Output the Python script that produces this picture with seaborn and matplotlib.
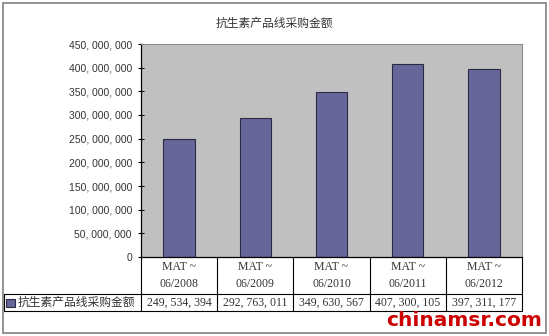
import matplotlib
matplotlib.use("Agg")
import matplotlib.pyplot as plt
import seaborn as sns
import pandas as pd
from matplotlib.patches import Rectangle
from matplotlib.lines import Line2D
from matplotlib.ticker import FuncFormatter, MultipleLocator

sns.set_theme(style="white")
plt.rcParams['font.family'] = ['Noto Sans CJK SC', 'DejaVu Sans']

title = "抗生素产品线采购金额"
series_name = "抗生素产品线采购金额"
categories = ["MAT ~\n06/2008", "MAT ~\n06/2009", "MAT ~\n06/2010", "MAT ~\n06/2011", "MAT ~\n06/2012"]
values = [249534394, 292763011, 349630567, 407300105, 397311177]
watermark = "chinamsr.com"

df = pd.DataFrame({"cat": categories, "val": values})

W, H = 549, 336
fig = plt.figure(figsize=(W / 100, H / 100), dpi=100)
fig.patch.set_facecolor("white")

# plot area (pixels: x 141-522, y 44-257)
ax = fig.add_axes([141 / W, 1 - 257 / H, (522 - 141) / W, (257 - 44) / H])
ax.set_facecolor("#C0C0C0")

sns.barplot(data=df, x="cat", y="val", ax=ax, color="#666699", width=0.41,
            edgecolor="#2a2a44", linewidth=0.8, saturation=1)

ax.set_ylim(0, 450000000)
ax.set_xlim(-0.5, len(categories) - 0.5)
ax.yaxis.set_major_locator(MultipleLocator(50000000))
ax.yaxis.set_major_formatter(FuncFormatter(lambda v, p: "0" if v == 0 else f"{int(v):,}".replace(",", ", ")))
ax.tick_params(axis="y", direction="inout", length=5, width=0.8, color="black",
               labelsize=7.5, pad=4, labelcolor="#333333", left=True)
ax.tick_params(axis="x", bottom=False, labelbottom=False)
ax.set_xlabel("")
ax.set_ylabel("")
for lab in ax.get_yticklabels():
    lab.set_family(["Liberation Sans"])

for s in ["top", "right"]:
    ax.spines[s].set_color("#8a8a8a")
    ax.spines[s].set_linewidth(0.8)
ax.spines["left"].set_color("black")
ax.spines["left"].set_linewidth(0.9)
ax.spines["bottom"].set_color("black")
ax.spines["bottom"].set_linewidth(0.9)

# data table below the plot
axh = 257 - 44
y_hdr = -(294 - 257) / axh
y_bot = -(311 - 257) / axh
x_leg = (4 - 141) / (522 - 141)
trans_b = ax.get_xaxis_transform()
lk = dict(color="black", lw=0.8, clip_on=False)
n = len(categories)
for i in range(n + 1):
    ax.add_line(Line2D([i - 0.5, i - 0.5], [0, y_bot], transform=trans_b, **lk))
ax.add_line(Line2D([x_leg, 1], [y_hdr, y_hdr], transform=ax.transAxes, **lk))
ax.add_line(Line2D([x_leg, 1], [y_bot, y_bot], transform=ax.transAxes, **lk))
ax.add_line(Line2D([x_leg, x_leg], [y_hdr, y_bot], transform=ax.transAxes, **lk))

for i, (c, v) in enumerate(zip(categories, values)):
    ax.text(i, y_hdr / 2, c, transform=trans_b, ha="center", va="center",
            fontsize=8.5, color="#333333", linespacing=1.45, family=["Liberation Serif"])
    ax.text(i, (y_hdr + y_bot) / 2, f"{v:,}".replace(",", ", "), transform=trans_b,
            ha="center", va="center", fontsize=8.5, color="#333333", family=["Liberation Serif"])

# legend key in the table
fig.patches.append(Rectangle((6 / W, 1 - 307 / H), 9 / W, 8 / H, transform=fig.transFigure,
                             facecolor="#666699", edgecolor="#2a2a44", lw=0.8))
fig.text(18 / W, 1 - 302.5 / H, series_name, ha="left", va="center", fontsize=8.5, color="#333333")

# title
fig.text(0.5, 1 - 23 / H, title, ha="center", va="center", fontsize=8.5, color="#333333")

# outer border
fig.patches.append(Rectangle((3 / W, 1 - 333 / H), 543 / W, 330 / H, transform=fig.transFigure,
                             facecolor="none", edgecolor="#808080", lw=1.2))

# watermark
fig.text(542 / W, 1 - 320 / H, watermark, ha="right", va="center", fontsize=14.5,
         weight="bold", color="#CC0000", family=["DejaVu Sans"])

fig.savefig("out.png", dpi=100)
